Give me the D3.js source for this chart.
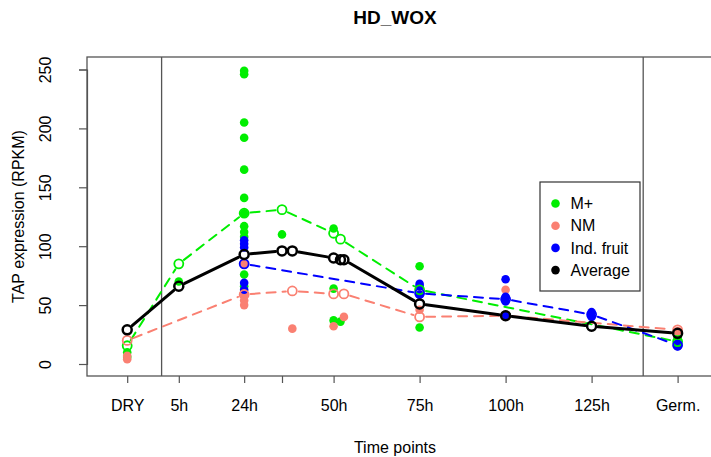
<!DOCTYPE html>
<html>
<head>
<meta charset="utf-8">
<script src="https://cdn.jsdelivr.net/npm/d3@7"></script>
<style>
  body { margin: 0; background: #fff; }
  svg { font-family: "Liberation Sans", Arial, Helvetica, sans-serif; }
</style>
</head>
<body>
<script>
// tick positions (hours) and their labels
var tickHours = [-10, 5, 24, 35, 50, 75, 100, 125, 150];
var tickLabels = ["DRY", "5h", "24h", "", "50h", "75h", "100h", "125h", "Germ."];
var yTicks = [0, 50, 100, 150, 200, 250];
var separators = [0, 140];

// individual samples [hour, RPKM]
var mPlusPts = [[-10,10],[-10,6],[5,70],[24,249],[24,246],[24,205],[24,192],[24,165],[24,141],[24,128],
                [24,117],[24,112],[24,108],[24,76],[24,66],[35,110],[50,115],[50,64],[50,37],[52,36],
                [75,83],[75,31],[150,22]];
var nmPts = [[-10,4],[-10,7],[24,85],[24,59],[24,54],[24,50],[38,30],[50,32],[53,40],[75,59],[75,46],
             [100,63],[150,28]];
var fruitPts = [[24,105],[24,102],[24,99],[24,69],[24,63],[75,68],[75,66],[75,59],[100,72],[100,57],
                [100,53],[100,41],[125,44],[125,40],[150,17],[150,15]];

// means per time point
var mPlusMean = [[-10,15.5],[5,85],[24,128],[35,131],[50,111],[52,106],[75,63],[150,19]];
var nmMean = [[-10,20],[24,59],[38,62],[50,59.5],[53,59.5],[75,40],[100,41],[150,29]];
var fruitMean = [[24,85],[75,60],[100,55],[125,42],[150,16]];
var avgMean = [[-10,29],[5,66],[24,93],[35,96],[38,96],[50,90],[52,88.5],[53,88.5],[75,51],[100,41],[125,32],[150,26]];

var legendNames = ["M+", "NM", "Ind. fruit", "Average"];
var colors = {mplus: "#00ee00", nm: "#fa8072", fruit: "#0000ff", avg: "#000000"};

var width = 711, height = 457;
var box = {left: 87, top: 57, right: 725, bottom: 376};

var x = d3.scaleLinear().domain([-10, 150]).range([127.2, 677.6]);
var y = d3.scaleLinear().domain([0, 250]).range([364, 69.5]);

var svg = d3.select("body").append("svg").attr("width", width).attr("height", height);

// title
svg.append("text").attr("x", 395).attr("y", 24).attr("text-anchor", "middle")
   .style("font-weight", "bold").style("font-size", "19px").text("HD_WOX");

// axes
var xAxis = d3.axisBottom(x).tickValues(tickHours).tickFormat(function(d, i){ return tickLabels[i]; })
              .tickSizeOuter(0).tickSize(7).tickPadding(17);
var gx = svg.append("g").attr("transform", "translate(0," + box.bottom + ")").call(xAxis);
gx.select(".domain").remove();
gx.selectAll("line").attr("stroke", "#555").attr("stroke-width", 1.2);
gx.selectAll("text").style("font-size", "16px").attr("fill", "#000").attr("font-family", null);

var yAxis = d3.axisLeft(y).tickValues(yTicks).tickSizeOuter(0).tickSize(8);
var gy = svg.append("g").attr("transform", "translate(" + box.left + ",0)").call(yAxis);
gy.select(".domain").attr("stroke", "#555").attr("stroke-width", 1.2);
gy.selectAll("line").attr("stroke", "#555").attr("stroke-width", 1.2);
gy.selectAll("text").attr("transform", "rotate(-90)").attr("x", 0).attr("y", -36).attr("dy", 0)
  .attr("text-anchor", "middle").style("font-size", "16px").attr("fill", "#000").attr("font-family", null);

svg.append("text").attr("transform", "translate(24," + ((box.top + box.bottom) / 2) + ") rotate(-90)")
   .attr("text-anchor", "middle").style("font-size", "16px").text("TAP expression (RPKM)");
svg.append("text").attr("x", 395).attr("y", 453).attr("text-anchor", "middle")
   .style("font-size", "16px").text("Time points");

// plot box and separators
svg.append("rect").attr("x", box.left).attr("y", box.top)
   .attr("width", box.right - box.left).attr("height", box.bottom - box.top)
   .attr("fill", "none").attr("stroke", "#555").attr("stroke-width", 1.3);
svg.selectAll(".sep").data(separators).enter().append("line")
   .attr("x1", function(d){ return x(d); }).attr("x2", function(d){ return x(d); })
   .attr("y1", box.top).attr("y2", box.bottom)
   .attr("stroke", "#555").attr("stroke-width", 1.3);

// filled sample points
function drawPts(data, col) {
  svg.append("g").selectAll("circle").data(data).enter().append("circle")
     .attr("cx", function(d){ return x(d[0]); }).attr("cy", function(d){ return y(d[1]); })
     .attr("r", 4.3).attr("fill", col);
}
drawPts(mPlusPts, colors.mplus);
drawPts(nmPts, colors.nm);
drawPts(fruitPts, colors.fruit);

// type = "b" style: segments stop short of the points
function drawMean(data, col, lw, dash, ringW) {
  var g = svg.append("g");
  var gap = 6.5;
  for (var i = 0; i < data.length - 1; i++) {
    var x1 = x(data[i][0]), y1 = y(data[i][1]), x2 = x(data[i+1][0]), y2 = y(data[i+1][1]);
    var len = Math.sqrt((x2-x1)*(x2-x1) + (y2-y1)*(y2-y1));
    if (len <= 2 * gap) continue;
    var ux = (x2-x1)/len, uy = (y2-y1)/len;
    g.append("line").attr("x1", x1 + ux*gap).attr("y1", y1 + uy*gap)
     .attr("x2", x2 - ux*gap).attr("y2", y2 - uy*gap)
     .attr("stroke", col).attr("stroke-width", lw).attr("stroke-linecap", "round")
     .attr("stroke-dasharray", dash);
  }
  g.selectAll("circle").data(data).enter().append("circle")
   .attr("cx", function(d){ return x(d[0]); }).attr("cy", function(d){ return y(d[1]); })
   .attr("r", 4.5).attr("fill", "none").attr("stroke", col).attr("stroke-width", ringW);
}
drawMean(mPlusMean, colors.mplus, 2, "9,7", 1.8);
drawMean(nmMean, colors.nm, 2, "9,7", 1.8);
drawMean(fruitMean, colors.fruit, 2, "9,7", 1.8);
drawMean(avgMean, colors.avg, 3, null, 2.5);

// legend
var legend = svg.append("g").attr("transform", "translate(540,182)");
legend.append("rect").attr("width", 100).attr("height", 109)
      .attr("fill", "#fff").attr("stroke", "#333").attr("stroke-width", 1.2);
var legendCols = [colors.mplus, colors.nm, colors.fruit, colors.avg];
var rows = legend.selectAll(".row").data(legendNames).enter().append("g")
      .attr("transform", function(d, i){ return "translate(0," + (21.5 + i * 22.2) + ")"; });
rows.append("circle").attr("cx", 15.5).attr("cy", 0).attr("r", 4.3).attr("fill", function(d, i){ return legendCols[i]; });
rows.append("text").attr("x", 30.5).attr("y", 0).attr("dy", "0.36em").style("font-size", "16px").text(function(d){ return d; });
</script>
</body>
</html>
